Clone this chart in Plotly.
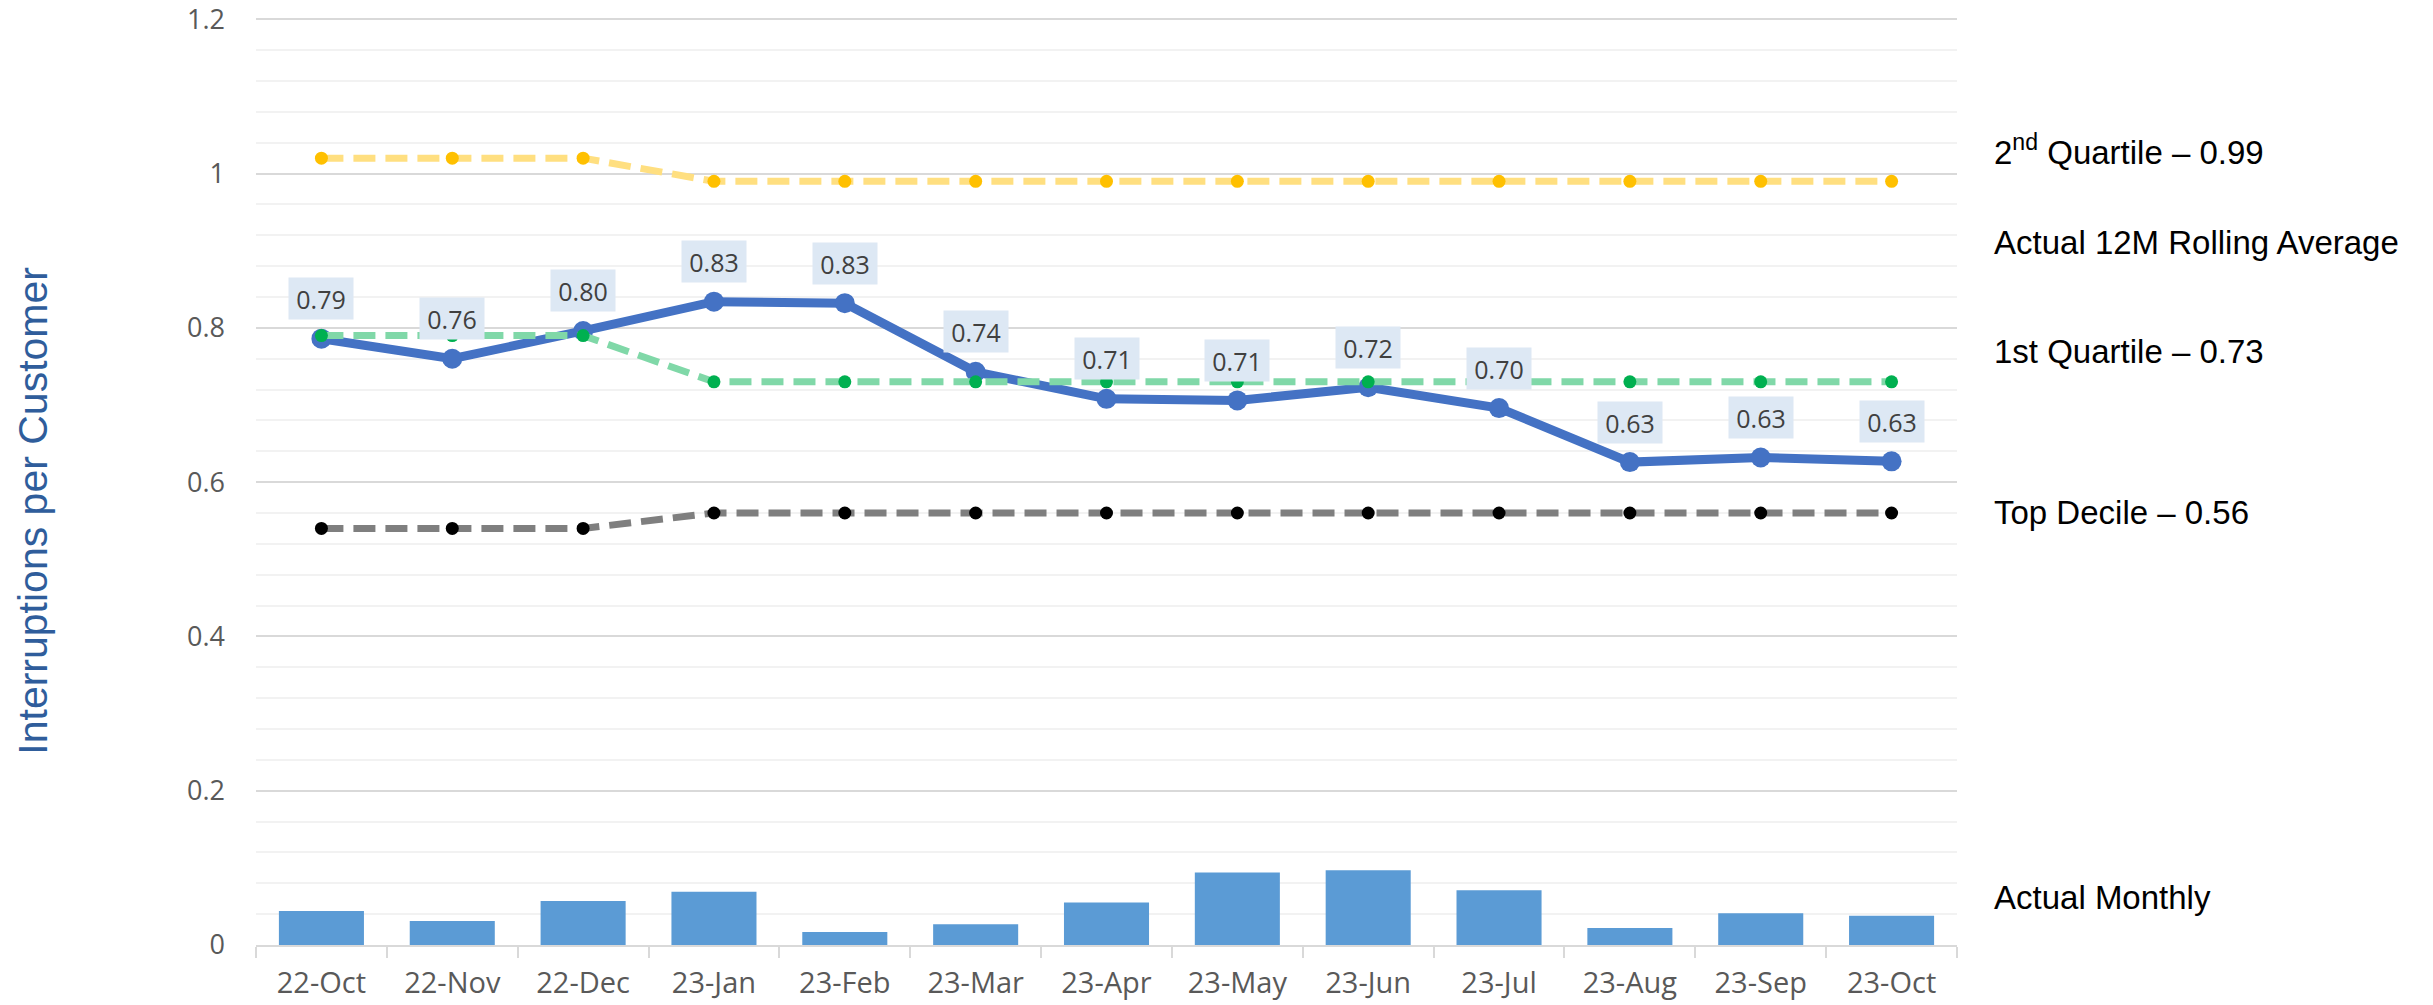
import plotly.graph_objects as go

# ---------------- data ----------------
months = ["22-Oct", "22-Nov", "22-Dec", "23-Jan", "23-Feb", "23-Mar", "23-Apr",
          "23-May", "23-Jun", "23-Jul", "23-Aug", "23-Sep", "23-Oct"]
rolling_avg = [0.786, 0.760, 0.796, 0.834, 0.832, 0.743, 0.708, 0.706, 0.723,
               0.696, 0.626, 0.632, 0.627]
monthly = [0.044, 0.031, 0.057, 0.069, 0.017, 0.027, 0.055, 0.094, 0.097,
           0.071, 0.022, 0.041, 0.038]
second_quartile = [1.02, 1.02, 1.02, 0.99, 0.99, 0.99, 0.99, 0.99, 0.99, 0.99, 0.99, 0.99, 0.99]
first_quartile = [0.79, 0.79, 0.79, 0.73, 0.73, 0.73, 0.73, 0.73, 0.73, 0.73, 0.73, 0.73, 0.73]
top_decile = [0.54, 0.54, 0.54, 0.56, 0.56, 0.56, 0.56, 0.56, 0.56, 0.56, 0.56, 0.56, 0.56]
y_tick_vals = [0, 0.2, 0.4, 0.6, 0.8, 1.0, 1.2]
y_tick_text = ["0", "0.2", "0.4", "0.6", "0.8", "1", "1.2"]
series_labels = {
    "second": "2<sup>nd</sup> Quartile – 0.99",
    "rolling": "Actual 12M Rolling Average",
    "first": "1st Quartile – 0.73",
    "decile": "Top Decile – 0.56",
    "monthly": "Actual Monthly",
}
y_title = "Interruptions per Customer"

# ---------------- figure ----------------
# the page body has an 8px default margin, so the figure is sized/offset to
# land on the 2433x1005 window exactly
W, H = 2425, 997
ML, MR, MT, MB = 248, 476, 9, 60
plot_w = W - ML - MR
plot_h = H - MT - MB

fig = go.Figure()

fig.add_trace(go.Bar(x=months, y=monthly, marker=dict(color="#5B9BD5", line=dict(width=0)),
                     showlegend=False, hoverinfo="x+y"))

fig.add_trace(go.Scatter(x=months, y=rolling_avg, mode="lines+markers",
                         line=dict(color="#4472C4", width=9),
                         marker=dict(color="#4472C4", size=20),
                         showlegend=False))

DASH = "22px,10px"
fig.add_trace(go.Scatter(x=months, y=top_decile, mode="lines+markers",
                         line=dict(color="#7F7F7F", width=7, dash=DASH),
                         marker=dict(color="#000000", size=13),
                         showlegend=False))
fig.add_trace(go.Scatter(x=months, y=first_quartile, mode="lines+markers",
                         line=dict(color="#80D8A8", width=7, dash=DASH),
                         marker=dict(color="#00B050", size=13),
                         showlegend=False))
fig.add_trace(go.Scatter(x=months, y=second_quartile, mode="lines+markers",
                         line=dict(color="#FFDF80", width=7, dash=DASH),
                         marker=dict(color="#FFC000", size=13),
                         showlegend=False))

annotations = []
# data labels on the rolling average
for m, v in zip(months, rolling_avg):
    annotations.append(dict(
        x=m, y=v, xref="x", yref="y", text=f"{v:.2f}", showarrow=False,
        yanchor="middle", xanchor="center", yshift=40,
        bgcolor="#DDE8F4", borderpad=7, width=50, height=27,
        font=dict(family="Open Sans", size=25, color="#404040"),
    ))

# right-side series labels
label_x = 1 + 35 / plot_w
for key, ypos in [("second", 1.03), ("rolling", 0.911), ("first", 0.770),
                  ("decile", 0.561), ("monthly", 0.062)]:
    annotations.append(dict(
        x=label_x, y=ypos, xref="paper", yref="y", text=series_labels[key],
        showarrow=False, xanchor="left", yanchor="middle",
        font=dict(family="Liberation Sans", size=33, color="#000000"),
    ))

# y-axis title
annotations.append(dict(
    x=-223 / plot_w, y=0.468, xref="paper", yref="paper", text=y_title,
    showarrow=False, textangle=-90, xanchor="center", yanchor="middle",
    font=dict(family="Liberation Sans", size=41, color="#2F5D9B"),
))

fig.update_layout(
    width=W, height=H,
    margin=dict(l=ML, r=MR, t=MT, b=MB, pad=0, autoexpand=False),
    paper_bgcolor="white", plot_bgcolor="white",
    bargap=0.35,
    annotations=annotations,
    font=dict(family="Open Sans", color="#595959"),
    xaxis=dict(
        type="category", range=[-0.5, 12.5], automargin=False,
        showline=True, linecolor="#D9D9D9", linewidth=2,
        ticks="outside", tickson="boundaries", ticklen=11, tickwidth=2, tickcolor="#D9D9D9",
        tickfont=dict(family="Open Sans", size=29, color="#595959"),
        showgrid=False, ticklabelstandoff=11,
    ),
    yaxis=dict(
        range=[0, 1.203], tickvals=y_tick_vals, ticktext=y_tick_text, automargin=False,
        showline=False, ticks="", zeroline=False,
        showgrid=True, gridcolor="#D9D9D9", gridwidth=2,
        minor=dict(dtick=0.04, tick0=0, showgrid=True, gridcolor="#F2F2F2", gridwidth=2),
        tickfont=dict(family="Open Sans", size=27, color="#595959"),
        ticklabelstandoff=30, ticklabeloverflow="allow",
    ),
)

fig.write_html("out.html")
